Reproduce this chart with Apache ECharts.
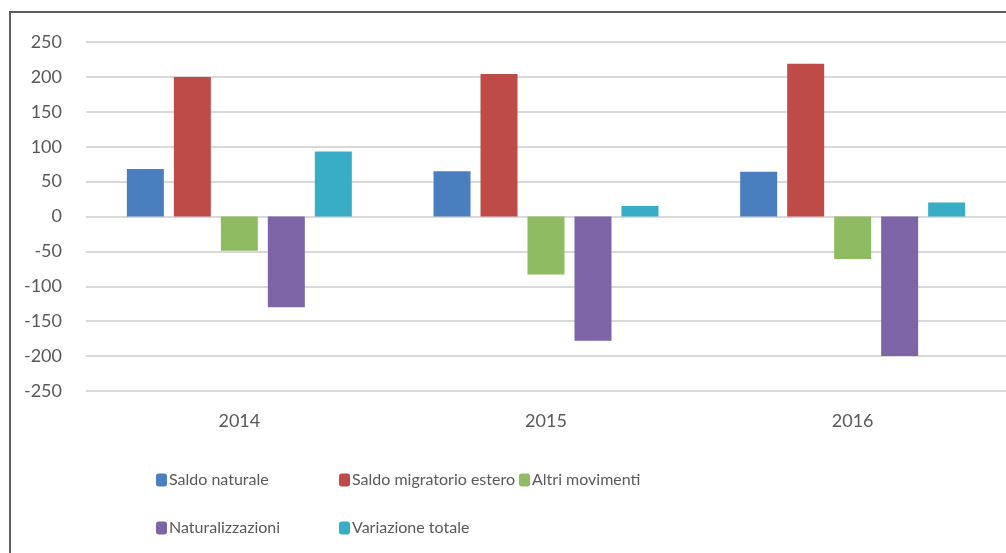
<!DOCTYPE html>
<html>
<head>
<meta charset="utf-8">
<script src="https://cdn.jsdelivr.net/npm/echarts@6/dist/echarts.min.js"></script>
<style>
html,body{margin:0;padding:0;background:#fff;}
#c{width:1006px;height:553px;}
</style>
</head>
<body>
<div id="c"></div>
<script>
const categories = ['2014', '2015', '2016'];
const saldoNaturale = [68, 65, 64];
const saldoMigratorio = [200, 204, 219];
const altriMovimenti = [-49, -83, -61];
const naturalizzazioni = [-130, -178, -200];
const variazioneTotale = [93, 15, 20];
const seriesNames = ['Saldo naturale', 'Saldo migratorio estero', 'Altri movimenti', 'Naturalizzazioni', 'Variazione totale'];
const colors = ['#4a7ebf', '#be4b48', '#8fbc62', '#7c64a6', '#37adc6'];
const yMin = -250, yMax = 250, yStep = 50;

const FONT = 'Lato';
const TXT = '#595959';
const values = [saldoNaturale, saldoMigratorio, altriMovimenti, naturalizzazioni, variazioneTotale];

const legendPos = [
  {left: 156, top: 472},
  {left: 339, top: 472},
  {left: 519, top: 472},
  {left: 156, top: 520},
  {left: 339, top: 520}
];

const chart = echarts.init(document.getElementById('c'));
chart.setOption({
  backgroundColor: '#fff',
  animation: false,
  color: colors,
  graphic: [{
    type: 'rect',
    shape: {x: 10, y: 12, width: 1100, height: 700},
    style: {fill: 'none', stroke: '#5e5e5e', lineWidth: 2},
    z: 100
  }],
  grid: {left: 86, top: 42, width: 922, height: 349, containLabel: false},
  legend: seriesNames.map((n, i) => ({
    data: [n],
    left: legendPos[i].left,
    top: legendPos[i].top,
    itemWidth: 11,
    itemHeight: 13,
    padding: 0,
    textStyle: {color: TXT, fontFamily: FONT, fontSize: 16, padding: [0, 0, 0, -3]},
    selectedMode: false
  })),
  xAxis: {
    type: 'category',
    data: categories,
    axisLine: {show: false, onZero: false},
    axisTick: {show: false},
    axisLabel: {color: TXT, fontFamily: FONT, fontSize: 18, margin: 21}
  },
  yAxis: {
    type: 'value',
    min: yMin, max: yMax, interval: yStep,
    axisLine: {show: false},
    axisTick: {show: false},
    axisLabel: {color: TXT, fontFamily: FONT, fontSize: 18, margin: 24},
    splitLine: {lineStyle: {color: '#d9d9d9', width: 2}}
  },
  series: seriesNames.map((n, i) => ({
    name: n,
    type: 'bar',
    data: values[i],
    barWidth: 37,
    barGap: '27%',
    itemStyle: {color: colors[i]}
  }))
});
</script>
</body>
</html>
